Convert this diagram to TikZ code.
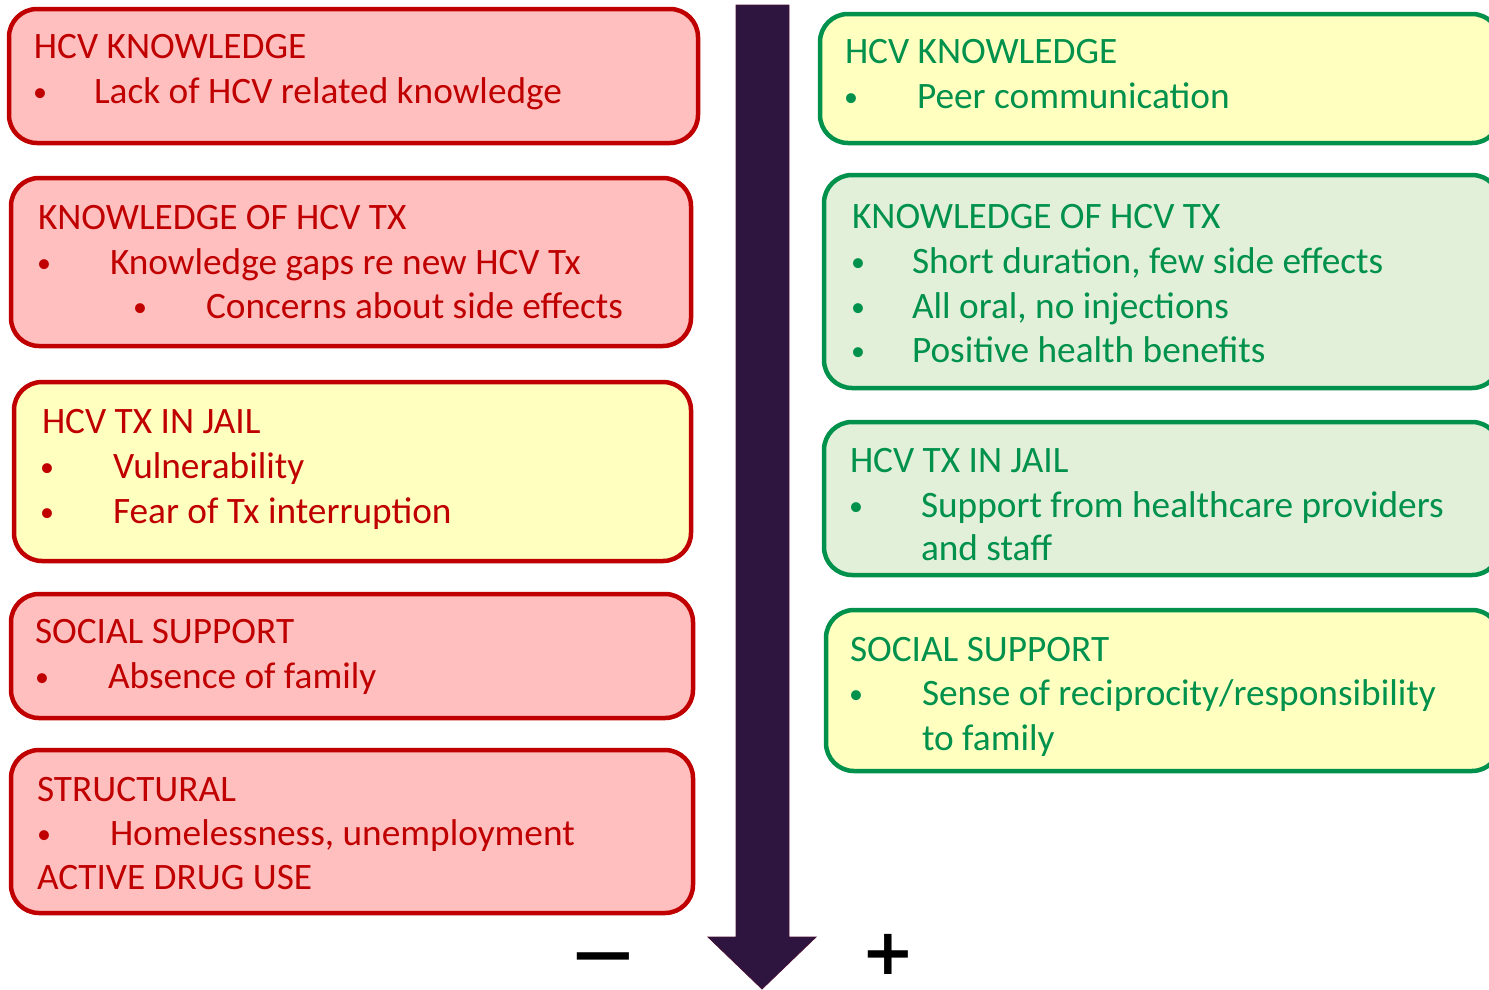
\documentclass[tikz,border=0pt]{standalone}
\usepackage{fontspec}
\usepackage{graphicx}
\setmainfont{Carlito}
\newfontfamily\signfont{DejaVu Sans}
\definecolor{redline}{HTML}{C00000}
\definecolor{redfill}{HTML}{FFBFBF}
\definecolor{yelfill}{HTML}{FFFFC0}
\definecolor{grnline}{HTML}{00914C}
\definecolor{grnfill}{HTML}{E2F0D9}
\definecolor{arrowfill}{HTML}{2D1540}
\definecolor{arrowline}{HTML}{4A1035}
\tikzset{
  box/.style={rectangle, rounded corners=28pt, line width=4.5pt, anchor=north west, inner sep=0pt, outer sep=0pt},
  redbox/.style={box, draw=redline, fill=redfill},
  redyel/.style={box, draw=redline, fill=yelfill},
  grnyel/.style={box, draw=grnline, fill=yelfill},
  grngrn/.style={box, draw=grnline, fill=grnfill},
  txt/.style={anchor=base west, inner sep=0pt, outer sep=0pt, font=\fontsize{37.3}{44}\selectfont},
  rtxt/.style={txt, text=redline},
  gtxt/.style={txt, text=grnline},
  bul/.style={anchor=base, inner sep=0pt, outer sep=0pt, yshift=2pt, font=\fontsize{28}{30}\selectfont},
  rbul/.style={bul, text=redline},
  gbul/.style={bul, text=grnline},
  sign/.style={anchor=base, inner sep=0pt, outer sep=0pt, font=\fontsize{64}{64}\signfont\bfseries}
}
\begin{document}
\begin{tikzpicture}[x=1pt,y=-1pt]
\useasboundingbox (0,0) rectangle (1489,989);
\clip (0,0) rectangle (1489,989);
\fill[white] (0,0) rectangle (1489,989);

% Left column
\node[redbox, minimum width=689pt, minimum height=134pt] (L1) at (9,9) {};
\node[rtxt] (L1t) at (34,58) {HCV KNOWLEDGE};
\node[rbul] (L1b1) at (40,103) {\textbullet};
\node[rtxt] (L1a) at (94,103) {Lack of HCV related knowledge};

\node[redbox, minimum width=680pt, minimum height=168pt] (L2) at (11,178) {};
\node[rtxt] (L2t) at (38,229) {KNOWLEDGE OF HCV TX};
\node[rbul] (L2b1) at (44,274) {\textbullet};
\node[rtxt] (L2a) at (110,274) {Knowledge gaps re new HCV Tx};
\node[rbul] (L2b2) at (140,318) {\textbullet};
\node[rtxt] (L2b) at (206,318) {Concerns about side effects};

\node[redyel, minimum width=677pt, minimum height=179pt] (L3) at (14,382) {};
\node[rtxt] (L3t) at (42,433) {HCV TX IN JAIL};
\node[rbul] (L3b1) at (47,478) {\textbullet};
\node[rtxt] (L3a) at (113,478) {Vulnerability};
\node[rbul] (L3b2) at (47,523) {\textbullet};
\node[rtxt] (L3b) at (113,523) {Fear of Tx interruption};

\node[redbox, minimum width=682pt, minimum height=124pt] (L4) at (11,594) {};
\node[rtxt] (L4t) at (35,643) {SOCIAL SUPPORT};
\node[rbul] (L4b1) at (42,688) {\textbullet};
\node[rtxt] (L4a) at (108,688) {Absence of family};

\node[redbox, minimum width=682pt, minimum height=163pt] (L5) at (11,750) {};
\node[rtxt] (L5t) at (37,801) {STRUCTURAL};
\node[rbul] (L5b1) at (44,845) {\textbullet};
\node[rtxt] (L5a) at (110,845) {Homelessness, unemployment};
\node[rtxt] (L5c) at (37,889) {ACTIVE DRUG USE};

% Right column
\node[grnyel, minimum width=680pt, minimum height=129pt] (R1) at (820,14) {};
\node[gtxt] (R1t) at (845,63) {HCV KNOWLEDGE};
\node[gbul] (R1b1) at (851,108) {\textbullet};
\node[gtxt] (R1a) at (917,108) {Peer communication};

\node[grngrn, minimum width=676pt, minimum height=213pt] (R2) at (824,175) {};
\node[gtxt] (R2t) at (852,228) {KNOWLEDGE OF HCV TX};
\node[gbul] (R2b1) at (858,273) {\textbullet};
\node[gtxt] (R2a) at (912,273) {Short duration, few side effects};
\node[gbul] (R2b2) at (858,318) {\textbullet};
\node[gtxt] (R2b) at (912,318) {All oral, no injections};
\node[gbul] (R2b3) at (858,362) {\textbullet};
\node[gtxt] (R2c) at (912,362) {Positive health benefits};

\node[grngrn, minimum width=676pt, minimum height=153pt] (R3) at (824,422) {};
\node[gtxt] (R3t) at (850,472) {HCV TX IN JAIL};
\node[gbul] (R3b1) at (856,517) {\textbullet};
\node[gtxt] (R3a) at (921,517) {Support from healthcare providers};
\node[gtxt] (R3a2) at (921,560) {and staff};

\node[grnyel, minimum width=674pt, minimum height=161pt] (R4) at (826,610) {};
\node[gtxt] (R4t) at (850,661) {SOCIAL SUPPORT};
\node[gbul] (R4b1) at (856,705) {\textbullet};
\node[gtxt] (R4a) at (922,705) {Sense of reciprocity/responsibility};
\node[gtxt] (R4a2) at (922,750) {to family};

% Central arrow
\draw[fill=arrowfill, draw=arrowline, line width=0.8pt, line join=miter]
  (736,5) -- (789,5) -- (789,937) -- (816,937) -- (762,989) -- (708,937) -- (736,937) -- cycle;

% Signs
\node[sign] (minus) at (603,976) {\scalebox{1.3}[1]{−}};
\node[sign] (plus) at (888,974) {+};
\end{tikzpicture}
\end{document}
